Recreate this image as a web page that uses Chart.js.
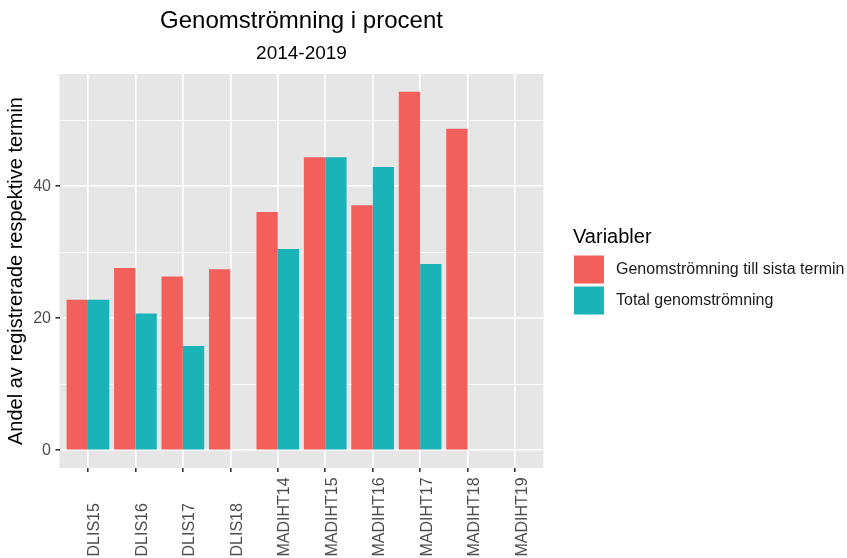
<!DOCTYPE html>
<html>
<head>
<meta charset="utf-8">
<script src="https://cdn.jsdelivr.net/npm/chart.js@4"></script>
<style>
    html, body { margin: 0; padding: 0; background: #ffffff; }
    #wrap { width: 847px; height: 558px; }
</style>
</head>
<body>
<div id="wrap"><canvas id="myChart" width="847" height="558"></canvas></div>
<script>
const categories = ["DLIS15", "DLIS16", "DLIS17", "DLIS18", "MADIHT14", "MADIHT15", "MADIHT16", "MADIHT17", "MADIHT18", "MADIHT19"];
const sistaTermin = [22.8, 27.6, 26.3, 27.4, 36.1, 44.4, 37.1, 54.3, 48.7, null];
const totalGenom = [22.8, 20.7, 15.8, null, 30.5, 44.4, 42.9, 28.2, null, null];
const seriesLabels = ["Genomströmning till sista termin", "Total genomströmning"];
const yTickValues = [0, 10, 20, 30, 40, 50];
const yTickLabels = ["0", "", "20", "", "40", ""];

const FONT = "'Liberation Sans', Arial, Helvetica, sans-serif";
const RED = "#F35F5B";
const TEAL = "#1AB3B8";
const PANEL = "#E6E6E6";

Chart.defaults.font.family = FONT;

// grått panelbakgrund som i ggplot
const panelBg = {
    id: "panelBg",
    beforeDraw(chart) {
        const { ctx, chartArea: a } = chart;
        ctx.save();
        ctx.fillStyle = "#ffffff";
        ctx.fillRect(0, 0, chart.width, chart.height);
        ctx.fillStyle = PANEL;
        ctx.fillRect(a.left, a.top, a.right - a.left, a.bottom - a.top);
        ctx.restore();
    }
};

// x-etiketter roterade 90°, startar nertill
const xLabels = {
    id: "xLabels",
    afterDraw(chart) {
        const { ctx } = chart;
        const xs = chart.scales.x;
        ctx.save();
        ctx.font = "16px " + FONT;
        ctx.fillStyle = "#4D4D4D";
        ctx.textAlign = "left";
        ctx.textBaseline = "alphabetic";
        categories.forEach((c, i) => {
            const px = xs.getPixelForValue(i);
            ctx.save();
            ctx.translate(px, 556.5);
            ctx.rotate(-Math.PI / 2);
            ctx.fillText(c, 0, 11.5);
            ctx.restore();
        });
        ctx.restore();
    }
};

const legendBox = {
    id: "legendBox",
    afterDraw(chart) {
        const { ctx } = chart;
        ctx.save();
        ctx.fillStyle = "#000000";
        ctx.font = "20px " + FONT;
        ctx.textBaseline = "middle";
        ctx.textAlign = "left";
        ctx.fillText("Variabler", 573, 237);
        ctx.font = "16px " + FONT;
        chart.data.datasets.forEach((ds, i) => {
            const top = 255.5 + i * 31;
            ctx.fillStyle = ds.backgroundColor;
            ctx.fillRect(574, top, 30, 28);
            ctx.fillStyle = "#1a1a1a";
            ctx.fillText(ds.label, 616, top + 14);
        });
        ctx.restore();
    }
};

const ctx = document.getElementById("myChart").getContext("2d");

new Chart(ctx, {
    type: "bar",
    data: {
        datasets: [
            {
                label: seriesLabels[0],
                data: sistaTermin.map((v, i) => ({ x: i, y: v })),
                backgroundColor: RED
            },
            {
                label: seriesLabels[1],
                data: totalGenom.map((v, i) => ({ x: i, y: v })),
                backgroundColor: TEAL
            }
        ]
    },
    options: {
        responsive: false,
        animation: false,
        devicePixelRatio: 1,
        layout: { padding: { left: 0, right: 303.5, top: 0, bottom: 0 } },
        datasets: {
            bar: { categoryPercentage: 0.9, barPercentage: 1.0, borderWidth: 0 }
        },
        plugins: {
            legend: { display: false },
            tooltip: { enabled: false },
            title: {
                display: true,
                text: "Genomströmning i procent",
                fullSize: false,
                color: "#000000",
                font: { size: 24, weight: "normal" },
                padding: { top: 7, bottom: 7 }
            },
            subtitle: {
                display: true,
                text: "2014-2019",
                fullSize: false,
                color: "#000000",
                font: { size: 19, weight: "normal" },
                padding: { top: 0, bottom: 8.4 }
            }
        },
        scales: {
            x: {
                type: "linear",
                min: -0.6,
                max: 9.6,
                offset: false,
                bounds: "data",
                afterBuildTicks: (scale) => {
                    scale.ticks = categories.map((c, i) => ({ value: i }));
                },
                afterFit: (scale) => { scale.height = 90; },
                ticks: { display: false, autoSkip: false },
                grid: {
                    offset: false,
                    color: "#ffffff",
                    lineWidth: 1.6,
                    tickColor: "#333333",
                    tickWidth: 1.6,
                    tickLength: 4
                },
                border: { display: false }
            },
            y: {
                min: -2.7,
                max: 57.0,
                bounds: "data",
                afterBuildTicks: (scale) => {
                    scale.ticks = yTickValues.map(v => ({ value: v }));
                },
                afterFit: (scale) => { scale.width = 59.5; },
                ticks: {
                    color: "#4D4D4D",
                    font: { size: 16 },
                    padding: 4.5,
                    callback: (v) => yTickLabels[yTickValues.indexOf(v)]
                },
                grid: {
                    color: "#ffffff",
                    lineWidth: (c) => (c.tick && c.tick.value % 20 === 0 ? 1.6 : 0.8),
                    tickColor: (c) => (c.tick && c.tick.value % 20 === 0 ? "#333333" : "rgba(0,0,0,0)"),
                    tickWidth: 1.6,
                    tickLength: 4
                },
                border: { display: false },
                title: {
                    display: true,
                    text: "Andel av registrerade respektive termin",
                    color: "#000000",
                    font: { size: 20 },
                    padding: { top: 4, bottom: 0 }
                }
            }
        }
    },
    plugins: [panelBg, xLabels, legendBox]
});
</script>
</body>
</html>
